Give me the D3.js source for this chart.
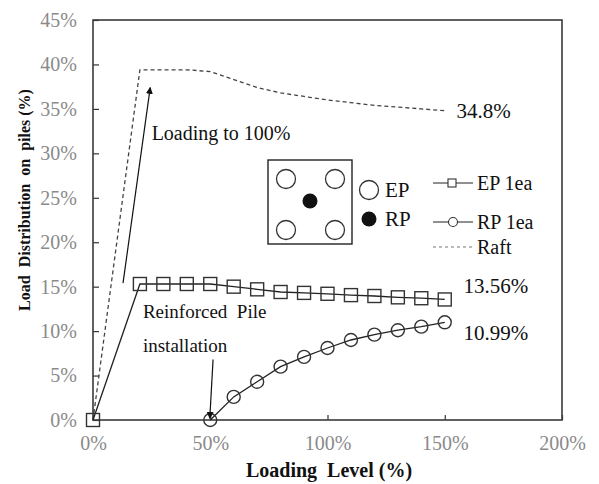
<!DOCTYPE html>
<html>
<head>
<meta charset="utf-8">
<script src="https://cdn.jsdelivr.net/npm/d3@7"></script>
<style>
  html, body { margin: 0; padding: 0; background: #fff; }
  svg { display: block; font-family: "Liberation Serif", "Times New Roman", serif; }
  svg text { white-space: pre; }
</style>
</head>
<body>
<svg id="chart" width="599" height="484"></svg>
<script>
// Loading levels (%) and load share carried by each member (%)
const epLevels   = [0, 20, 30, 40, 50, 60, 70, 80, 90, 100, 110, 120, 130, 140, 150];
const epValues   = [0, 15.3, 15.3, 15.3, 15.3, 15.0, 14.7, 14.4, 14.3, 14.2, 14.05, 13.95, 13.8, 13.7, 13.56];

const rpLevels   = [50, 60, 70, 80, 90, 100, 110, 120, 130, 140, 150];
const rpValues   = [0, 2.6, 4.3, 6.0, 7.1, 8.1, 9.0, 9.6, 10.1, 10.5, 10.99];

const raftLevels = [0, 20, 30, 40, 50, 60, 70, 80, 90, 100, 110, 120, 130, 140, 150];
const raftValues = [0, 39.4, 39.4, 39.4, 39.2, 38.3, 37.4, 36.8, 36.4, 36.0, 35.7, 35.4, 35.2, 35.0, 34.8];

const xTicks = [0, 50, 100, 150, 200];
const yTicks = [0, 5, 10, 15, 20, 25, 30, 35, 40, 45];

const endLabels = [
  { text: "34.8%",  x: 155, y: 34.8 },
  { text: "13.56%", x: 158, y: 15.1 },
  { text: "10.99%", x: 158, y: 9.85 }
];

const svg = d3.select("#chart");
const plot = { left: 93, right: 562, top: 20, bottom: 420 };

const x = d3.scaleLinear().domain([0, 200]).range([plot.left, plot.right]);
const y = d3.scaleLinear().domain([0, 45]).range([plot.bottom, plot.top]);

// arrow marker
svg.append("defs").append("marker")
  .attr("id", "arrow").attr("viewBox", "0 0 10 10")
  .attr("refX", 9).attr("refY", 5)
  .attr("markerWidth", 7).attr("markerHeight", 8)
  .attr("markerUnits", "userSpaceOnUse")
  .attr("orient", "auto")
  .append("path").attr("d", "M0,0 L10,5 L0,10 Z").attr("fill", "#111");

// axes (ticks pointing inward)
const yAxis = d3.axisLeft(y).tickValues(yTicks).tickSizeInner(-6).tickSizeOuter(0)
  .tickPadding(16).tickFormat(d => d + "%");
const xAxis = d3.axisBottom(x).tickValues(xTicks).tickSizeInner(-5).tickSizeOuter(0)
  .tickPadding(16).tickFormat(d => d + "%");

const gy = svg.append("g").attr("transform", `translate(${plot.left},0)`).call(yAxis);
const gx = svg.append("g").attr("transform", `translate(0,${plot.bottom})`).call(xAxis);
[gx, gy].forEach(g => {
  g.select(".domain").remove();
  g.selectAll(".tick line").attr("stroke", "#333").attr("stroke-width", 1.2);
  g.selectAll(".tick text").attr("fill", "#8a8a8a")
    .style("font-family", "'Liberation Serif', serif").style("font-size", "20px");
});

// frame
svg.append("rect")
  .attr("x", plot.left).attr("y", plot.top)
  .attr("width", plot.right - plot.left).attr("height", plot.bottom - plot.top)
  .attr("fill", "none").attr("stroke", "#3a3a3a").attr("stroke-width", 1.6);

// axis titles
svg.append("text")
  .attr("x", 329).attr("y", 477)
  .attr("text-anchor", "middle").attr("font-weight", "bold").attr("font-size", 20)
  .attr("fill", "#111").text("Loading  Level (%)");
svg.append("text")
  .attr("transform", "translate(30,200) rotate(-90)")
  .attr("text-anchor", "middle").attr("font-weight", "bold").attr("font-size", 16)
  .attr("fill", "#111").text("Load  Distribution  on  piles (%)");

const line = d3.line().x(d => x(d[0])).y(d => y(d[1]));
const zip = (a, b) => a.map((v, i) => [v, b[i]]);

// Raft (dashed)
svg.append("path").datum(zip(raftLevels, raftValues))
  .attr("d", line).attr("fill", "none")
  .attr("stroke", "#444").attr("stroke-width", 1.3).attr("stroke-dasharray", "4,3");

// EP line + markers
const epData = zip(epLevels, epValues);
svg.append("path").datum(epData).attr("d", line).attr("fill", "none")
  .attr("stroke", "#222").attr("stroke-width", 1.3);
svg.selectAll(".ep").data(epData).enter().append("rect")
  .attr("x", d => x(d[0]) - 6.5).attr("y", d => y(d[1]) - 6.5)
  .attr("width", 13).attr("height", 13)
  .attr("fill", "none").attr("stroke", "#333").attr("stroke-width", 1.4);

// RP line + markers
const rpData = zip(rpLevels, rpValues);
svg.append("path").datum(rpData).attr("d", line).attr("fill", "none")
  .attr("stroke", "#222").attr("stroke-width", 1.3);
svg.selectAll(".rp").data(rpData).enter().append("circle")
  .attr("cx", d => x(d[0])).attr("cy", d => y(d[1])).attr("r", 6.5)
  .attr("fill", "none").attr("stroke", "#333").attr("stroke-width", 1.4);

// end-of-curve labels
svg.selectAll(".endlab").data(endLabels).enter().append("text")
  .attr("x", d => x(d.x)).attr("y", d => y(d.y)).attr("dy", "0.35em")
  .attr("font-size", 21).attr("fill", "#111").text(d => d.text);

// annotation: loading to 100%
svg.append("line")
  .attr("x1", x(12.8)).attr("y1", y(15.4)).attr("x2", x(24.4)).attr("y2", y(37.4))
  .attr("stroke", "#111").attr("stroke-width", 1.2).attr("marker-end", "url(#arrow)");
svg.append("text").attr("x", x(25)).attr("y", y(32.3)).attr("dy", "0.35em")
  .attr("font-size", 20).attr("fill", "#111").text("Loading to 100%");

// annotation: reinforced pile installation
svg.append("line")
  .attr("x1", x(51.2)).attr("y1", y(6.8)).attr("x2", x(49.8)).attr("y2", y(0.2))
  .attr("stroke", "#111").attr("stroke-width", 1.2).attr("marker-end", "url(#arrow)");
svg.append("text").attr("x", x(21.3)).attr("y", y(12.2)).attr("dy", "0.35em")
  .attr("font-size", 19).attr("fill", "#111").text("Reinforced  Pile");
svg.append("text").attr("x", x(21.3)).attr("y", y(8.4)).attr("dy", "0.35em")
  .attr("font-size", 19).attr("fill", "#111").text("installation");

// pile layout sketch
const sketch = svg.append("g");
sketch.append("rect").attr("x", 268).attr("y", 160).attr("width", 84).attr("height", 84)
  .attr("fill", "none").attr("stroke", "#222").attr("stroke-width", 1.4);
[[286, 179], [335, 179], [286, 230], [335, 230]].forEach(([cx, cy]) =>
  sketch.append("circle").attr("cx", cx).attr("cy", cy).attr("r", 9.5)
    .attr("fill", "none").attr("stroke", "#333").attr("stroke-width", 1.3));
sketch.append("circle").attr("cx", 310).attr("cy", 201).attr("r", 7.5).attr("fill", "#111");

sketch.append("circle").attr("cx", 369).attr("cy", 190).attr("r", 9.5)
  .attr("fill", "none").attr("stroke", "#333").attr("stroke-width", 1.3);
sketch.append("circle").attr("cx", 369).attr("cy", 219).attr("r", 7.5).attr("fill", "#111");
sketch.append("text").attr("x", 385).attr("y", 190).attr("dy", "0.35em")
  .attr("font-size", 21).attr("fill", "#111").text("EP");
sketch.append("text").attr("x", 385).attr("y", 219).attr("dy", "0.35em")
  .attr("font-size", 21).attr("fill", "#111").text("RP");

// legend
const legend = svg.append("g");
const items = [
  { label: "EP 1ea", y: 183, kind: "square" },
  { label: "RP 1ea", y: 222, kind: "circle" },
  { label: "Raft",   y: 247, kind: "dash" }
];
items.forEach(it => {
  const l = legend.append("line").attr("x1", 433).attr("x2", 473)
    .attr("y1", it.y).attr("y2", it.y).attr("stroke-width", 1.2);
  if (it.kind === "dash") l.attr("stroke", "#777").attr("stroke-dasharray", "3,3");
  else l.attr("stroke", "#222");
  if (it.kind === "square")
    legend.append("rect").attr("x", 448).attr("y", it.y - 4).attr("width", 8).attr("height", 8)
      .attr("fill", "#fff").attr("stroke", "#333").attr("stroke-width", 1.1);
  if (it.kind === "circle")
    legend.append("circle").attr("cx", 453).attr("cy", it.y).attr("r", 4.5)
      .attr("fill", "#fff").attr("stroke", "#333").attr("stroke-width", 1.1);
  legend.append("text").attr("x", 477).attr("y", it.y).attr("dy", "0.35em")
    .attr("font-size", 20).attr("fill", "#111").text(it.label);
});
</script>
</body>
</html>
